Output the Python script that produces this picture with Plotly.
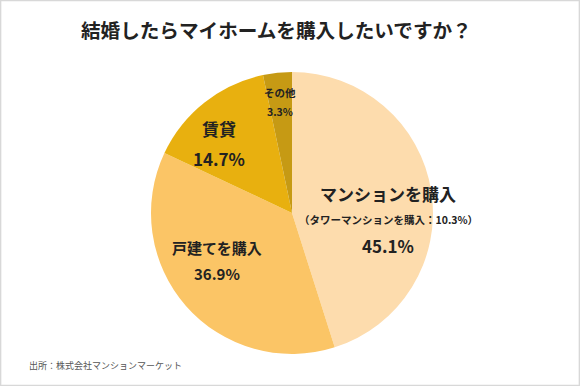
import plotly.graph_objects as go

# ---- data ----
categories = ["マンションを購入", "戸建てを購入", "賃貸", "その他"]
values = [45.1, 36.9, 14.7, 3.3]
sub_notes = ["（タワーマンションを購入：10.3%）", "", "", ""]
title_text = "結婚したらマイホームを購入したいですか？"
source_text = "出所：株式会社マンションマーケット"

# ---- styles ----
W, H = 580, 386
colors = ["#FDDCAD", "#FBC566", "#E8B00F", "#C69A14"]
FONT = "Noto Sans CJK JP"
cx, cy, R = 292, 213, 141  # pie centre / radius in pixels

# label layout per slice: (x px, y px of name, gap to value, name size, value size)
label_pos = [
    (388, 193, 52, 17, 17),
    (217, 247, 26, 15, 15),
    (219, 128, 30, 17, 17),
    (280, 93, 19, 10.5, 10.5),
]

fig = go.Figure(go.Pie(
    labels=categories,
    values=values,
    sort=False,
    direction="clockwise",
    rotation=0,
    marker=dict(colors=colors, line=dict(width=0)),
    textinfo="none",
    hoverinfo="label+percent",
    showlegend=False,
    domain=dict(x=[(cx - R) / W, (cx + R) / W], y=[1 - (cy + R) / H, 1 - (cy - R) / H]),
))

def px(x, y):
    return x / W, 1 - y / H

def ann(lx, ly, text, size, color="#222", xanchor="center"):
    x, y = px(lx, ly)
    return dict(x=x, y=y, xref="paper", yref="paper", text=text, showarrow=False,
                xanchor=xanchor, yanchor="middle",
                font=dict(family=FONT, size=size, color=color))

annotations = []
for cat, val, note, (lx, ly, gap, ns, vs) in zip(categories, values, sub_notes, label_pos):
    annotations.append(ann(lx, ly, f"<b>{cat}</b>", ns))
    if note:
        annotations.append(ann(lx, ly + 26, f"<b>{note}</b>", 10.5))
    annotations.append(ann(lx, ly + gap, f"<b>{val:.1f}%</b>", vs))

annotations.append(ann(276, 29, f"<b>{title_text}</b>", 19.6))
annotations.append(ann(27, 365, source_text, 9, color="#555", xanchor="left"))

fig.update_layout(
    width=W, height=H,
    margin=dict(l=0, r=0, t=0, b=0),
    paper_bgcolor="white",
    plot_bgcolor="white",
    annotations=annotations,
    shapes=[dict(type="rect", xref="paper", yref="paper", x0=0.001, y0=0.001, x1=0.999, y1=0.999,
                 line=dict(color="#D8D8D8", width=1.5))],
)

fig.write_html("out.html", config={"displayModeBar": False})

# remove the default page margin so the figure sits at the window's corner
with open("out.html", encoding="utf-8") as f:
    html = f.read()
html = html.replace("<head>", "<head><style>html,body{margin:0;padding:0;}</style>", 1)
with open("out.html", "w", encoding="utf-8") as f:
    f.write(html)
